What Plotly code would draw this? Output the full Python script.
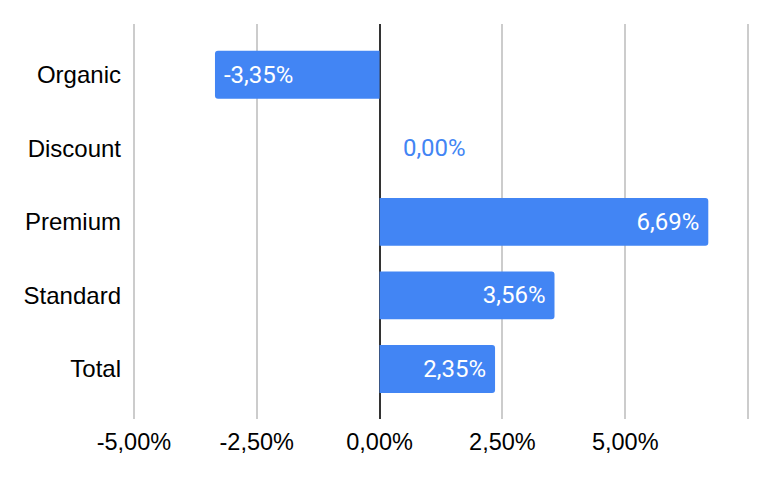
import plotly.graph_objects as go

categories = ["Organic", "Discount", "Premium", "Standard", "Total"]
values = [-3.35, 0.00, 6.69, 3.56, 2.35]
tick_values = [-5, -2.5, 0, 2.5, 5, 7.5]
tick_labels = ["-5,00%", "-2,50%", "0,00%", "2,50%", "5,00%", ""]

BLUE = "#4285F4"

labels = [f"{v:.2f}%".replace(".", ",") for v in values]
positions = ["outside" if v == 0 else "inside" for v in values]
texts = []
for t, v in zip(labels, values):
    if v == 0:
        texts.append("   \u200a" + t)
    elif v < 0:
        texts.append(" " + t)
    else:
        texts.append(t + " ")

fig = go.Figure(
    go.Bar(
        y=categories,
        x=values,
        orientation="h",
        marker=dict(color=BLUE, line=dict(width=0)),
        width=0.65,
        text=texts,
        textposition=positions,
        insidetextanchor="end",
        insidetextfont=dict(family="Roboto", size=24, color="white"),
        outsidetextfont=dict(family="Roboto", size=24, color=BLUE),
        cliponaxis=False,
        hoverinfo="skip",
    )
)

fig.update_layout(
    width=772,
    height=478,
    margin=dict(l=121, r=27, t=16, b=67),
    plot_bgcolor="white",
    paper_bgcolor="white",
    showlegend=False,
    barcornerradius=3,
    font=dict(family="Liberation Sans, Arial", size=24, color="#000000"),
    xaxis=dict(
        range=[-5.1, 7.6],
        tickvals=tick_values,
        ticktext=tick_labels,
        showgrid=True,
        gridcolor="#cccccc",
        gridwidth=1.5,
        zeroline=True,
        zerolinecolor="#333333",
        zerolinewidth=2,
        showline=False,
        ticks="",
        automargin=False,
        ticklabelstandoff=6,
        tickfont=dict(family="Liberation Sans, Arial", size=23.5, color="#000000"),
    ),
    yaxis=dict(
        type="category",
        categoryorder="array",
        categoryarray=categories,
        range=[4.68, -0.69],
        showgrid=False,
        zeroline=False,
        showline=False,
        ticks="",
        automargin=False,
        ticklabelstandoff=7,
        tickfont=dict(family="Liberation Sans, Arial", size=24, color="#000000"),
    ),
)

fig.write_html("out.html")
